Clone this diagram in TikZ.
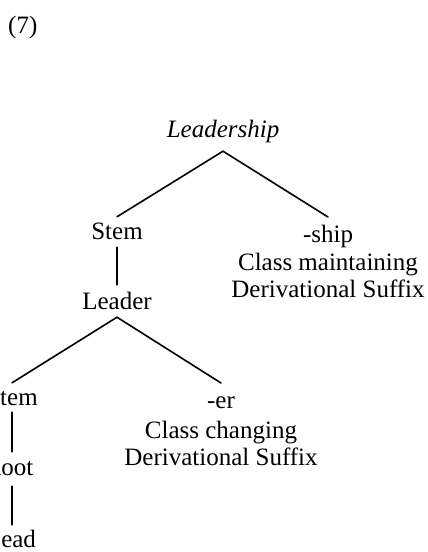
\documentclass[tikz,border=0pt]{standalone}
\usepackage{fontspec}
\setmainfont{Liberation Serif}
\begin{document}
\begin{tikzpicture}[x=1pt,y=-1pt,
  word/.style={inner sep=0pt, text height=17pt, text depth=5pt,
    font=\fontsize{25}{27}\selectfont, anchor=base},
  gloss/.style={inner sep=0pt, align=center,
    font=\fontsize{25}{27}\selectfont, anchor=north},
  branch/.style={line width=1.6pt, line cap=round}]
\useasboundingbox (0,0) rectangle (428,552);
\clip (0,0) rectangle (428,552);

% example number
\node[word, anchor=base west] (num) at (8,33) {(7)};

% the derived word and its parts
\node[word, font=\fontsize{25}{27}\selectfont\itshape] (top) at (223,137) {Leadership};
\node[word] (stemA) at (117,239) {Stem};
\node[word] (leader) at (117,309) {Leader};
\node[gloss] (ship) at (328,225)
  {\rule{0pt}{17pt}-ship\\[1pt] Class maintaining\\ Derivational Suffix};
\node[word] (stemB) at (12,405) {Stem};
\node[gloss] (er) at (221,391)
  {\rule{0pt}{17pt}-er\\[3pt] Class changing\\ Derivational Suffix};
\node[word] (root) at (9,475) {Root};
\node[word] (lead) at (11,547) {Lead};

% branches
\draw[branch] ([yshift=-9pt]top.south) -- ([yshift=5pt]stemA.north);
\draw[branch] ([yshift=-9pt]top.south) -- ([yshift=8pt]ship.north);
\draw[branch] ([yshift=-3pt]stemA.south) -- ([yshift=7pt]leader.north);
\draw[branch] ([yshift=-3pt]leader.south) -- ([yshift=5pt]stemB.north);
\draw[branch] ([yshift=-3pt]leader.south) -- ([yshift=8pt]er.north);
\draw[branch] ([yshift=-2pt]stemB.south) -- ([xshift=3pt,yshift=6pt]root.north);
\draw[branch] ([xshift=3pt,yshift=-6pt]root.south) -- ([xshift=1pt,yshift=5pt]lead.north);
\end{tikzpicture}
\end{document}
